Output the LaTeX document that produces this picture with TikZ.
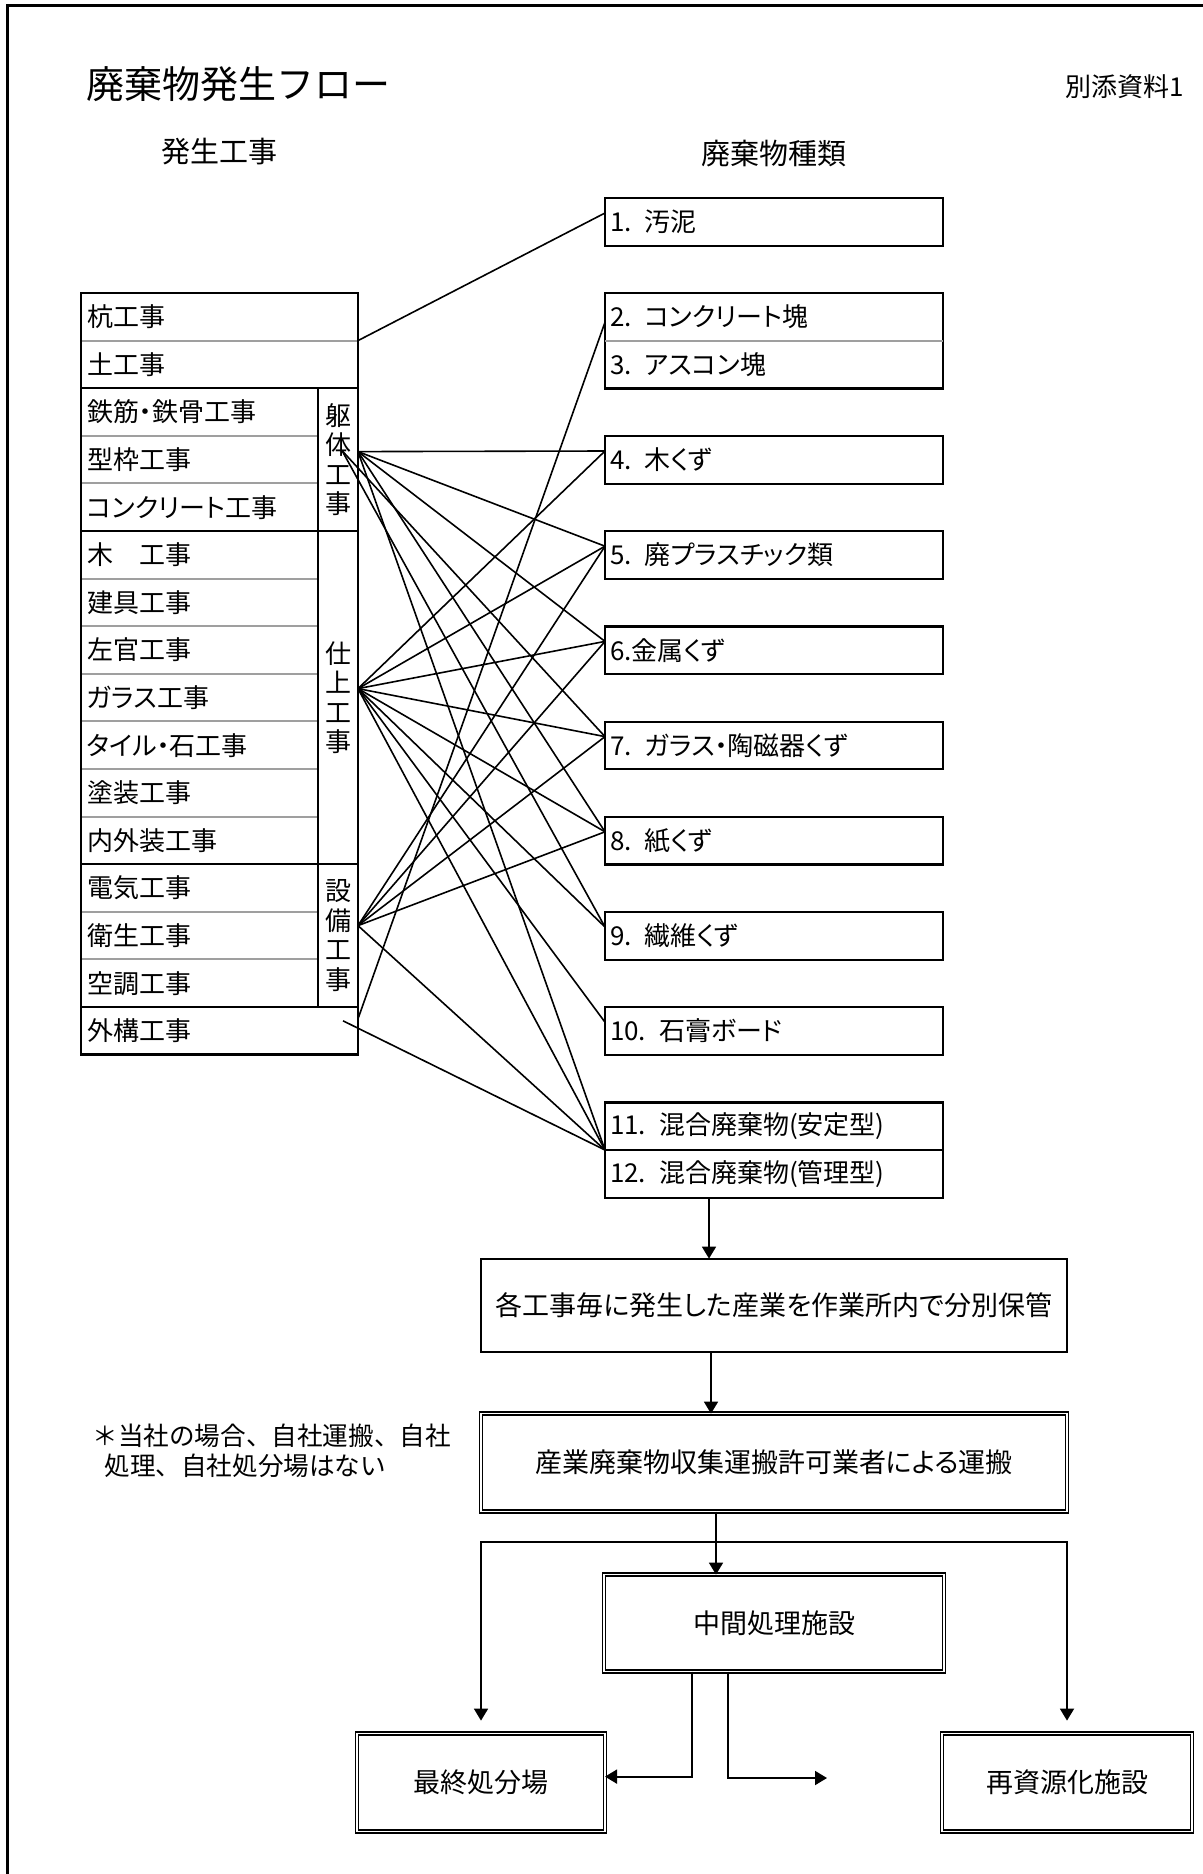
\documentclass[tikz,border=0pt]{standalone}
\usepackage{fontspec}
\setmainfont{Noto Sans CJK JP}[RawFeature=+palt]
\newfontfamily\fullwidth{Noto Sans CJK JP}
\usetikzlibrary{positioning,arrows.meta}

\begin{document}
\begin{tikzpicture}[
        x=0.5pt, y=-0.5pt,
        node distance=23.8pt,
        row/.style={rectangle, draw=gray!75, line width=1pt, outer sep=0pt, inner xsep=3pt, inner ysep=0pt, minimum height=23.8pt, text width=112.5pt, align=left, font=\fontsize{13pt}{15pt}\selectfont},
        wide/.style={text width=132.5pt},
        grp/.style={rectangle, draw, line width=1.2pt, outer sep=0pt, inner sep=0pt, minimum width=20pt, align=center, font=\fontsize{13pt}{14.7pt}\selectfont},
        grpframe/.style={draw, line width=1.2pt},
        waste/.style={rectangle, draw, line width=1.1pt, outer sep=0pt, inner xsep=2.5pt, inner ysep=0pt, minimum height=23.8pt, text width=164pt, align=left, font=\fontsize{13pt}{15pt}\selectfont},
        link/.style={line width=0.8pt},
        flowbox/.style={rectangle, draw, line width=1pt, outer sep=0pt, align=center, font=\fontsize{13.5pt}{15pt}\selectfont},
        dblbox/.style={flowbox, double, double distance=0.7pt, line width=0.85pt},
        arrow/.style={-{Triangle[length=6pt, width=7pt]}, line width=0.9pt}
    ]
        \useasboundingbox (0,0) rectangle (1203,1874);
        \draw[line width=1.5pt] (7,1874) -- (7,5) -- (1203,5);

        \node[anchor=west, inner sep=0pt, font=\fullwidth\fontsize{19pt}{21pt}\selectfont] (title) at (86,84) {廃棄物発生フロー};
        \node[anchor=east, inner sep=0pt, font=\fontsize{13pt}{15pt}\selectfont] (annex) at (1184,87) {別添資料1};
        \node[font=\fontsize{14.5pt}{16pt}\selectfont] (srchead) at (219.5,152) {発生工事};
        \node[font=\fontsize{14.5pt}{16pt}\selectfont] (wastehead) at (774,154) {廃棄物種類};

        \node[row, wide, anchor=north west] (kui) at (81,293) {杭工事};
        \node[row, wide, below=0pt of kui] (tsuchi) {土工事};
        \node[row, below=0pt of tsuchi.south west, anchor=north west] (tekkin) {鉄筋・鉄骨工事};
        \node[row, below=0pt of tekkin] (katawaku) {型枠工事};
        \node[row, below=0pt of katawaku] (concrete) {コンクリート工事};
        \node[row, below=0pt of concrete] (moku) {木　工事};
        \node[row, below=0pt of moku] (tategu) {建具工事};
        \node[row, below=0pt of tategu] (sakan) {左官工事};
        \node[row, below=0pt of sakan] (glass) {ガラス工事};
        \node[row, below=0pt of glass] (tile) {タイル・石工事};
        \node[row, below=0pt of tile] (tosou) {塗装工事};
        \node[row, below=0pt of tosou] (naigai) {内外装工事};
        \node[row, below=0pt of naigai] (denki) {電気工事};
        \node[row, below=0pt of denki] (eisei) {衛生工事};
        \node[row, below=0pt of eisei] (kuchou) {空調工事};
        \node[row, wide, below=0pt of kuchou.south west, anchor=north west] (gaikou) {外構工事};

        \node[grp, minimum height=71.4pt, right=0pt of tekkin.north east, anchor=north west] (kutai) {躯\\体\\工\\事};
        \node[grp, minimum height=166.6pt, right=0pt of moku.north east, anchor=north west] (shiage) {仕\\上\\工\\事};
        \node[grp, minimum height=71.4pt, right=0pt of denki.north east, anchor=north west] (setsubi) {設\\備\\工\\事};

        \draw[grpframe] (kui.north west) rectangle (tsuchi.south east);
        \draw[grpframe] (tekkin.north west) rectangle (kutai.south east);
        \draw[grpframe] (moku.north west) rectangle (shiage.south east);
        \draw[grpframe] (denki.north west) rectangle (setsubi.south east);
        \draw[grpframe] (gaikou.north west) rectangle (gaikou.south east);

        \node[waste, anchor=north west] (sludge) at (605,198) {1. 汚泥};
        \node[waste, below=of sludge] (conc) {2. コンクリート塊};
        \node[waste, below=0pt of conc] (ascon) {3. アスコン塊};
        \node[waste, below=of ascon] (wood) {4. 木くず};
        \node[waste, below=of wood] (plastic) {5. 廃プラスチック類};
        \node[waste, below=of plastic] (metal) {6.金属くず};
        \node[waste, below=of metal] (glassw) {7. ガラス・陶磁器くず};
        \node[waste, below=of glassw] (paper) {8. 紙くず};
        \node[waste, below=of paper] (fiber) {9. 繊維くず};
        \node[waste, below=of fiber] (gypsum) {10. 石膏ボード};
        \node[waste, below=of gypsum] (mixsafe) {11. 混合廃棄物(安定型)};
        \node[waste, below=0pt of mixsafe] (mixctrl) {12. 混合廃棄物(管理型)};
        \draw[gray!75, line width=1.2pt] (conc.south west) -- (conc.south east);

        \coordinate (tsludge) at ([yshift=-7.5pt]sludge.north west);
        \coordinate (tconc) at ([yshift=-14.5pt]conc.north west);
        \coordinate (twood) at ([yshift=-7.5pt]wood.north west);
        \coordinate (tplastic) at ([yshift=-7.5pt]plastic.north west);
        \coordinate (tmetal) at ([yshift=-7.5pt]metal.north west);
        \coordinate (tglassw) at ([yshift=-7.5pt]glassw.north west);
        \coordinate (tpaper) at ([yshift=-7.5pt]paper.north west);
        \coordinate (tfiber) at ([yshift=-7.5pt]fiber.north west);
        \coordinate (tgypsum) at ([yshift=-7.5pt]gypsum.north west);

        \coordinate (kutaip) at ([yshift=4pt]kutai.east);
        \coordinate (kutaiq) at ([xshift=-8pt, yshift=4.5pt]kutai.east);
        \coordinate (shiagep) at ([yshift=4.5pt]shiage.east);
        \coordinate (setsubip) at ([yshift=5pt]setsubi.east);
        \coordinate (gaikoup) at ([yshift=6pt]gaikou.east);
        \coordinate (gaikouq) at ([xshift=-7.5pt, yshift=5pt]gaikou.east);

        \draw[link] (kui.south east) -- (tsludge);
        \draw[link] (gaikoup) -- (tconc);
        \draw[link] (kutaip) -- (twood);
        \draw[link] (kutaip) -- (tplastic);
        \draw[link] (kutaip) -- (tmetal);
        \draw[link] (kutaiq) -- (tglassw);
        \draw[link] (kutaip) -- (tpaper);
        \draw[link] (kutaiq) -- (tfiber);
        \draw[link] (kutaip) -- (mixsafe.south west);
        \draw[link] (shiagep) -- (twood);
        \draw[link] (shiagep) -- (tplastic);
        \draw[link] (shiagep) -- (tmetal);
        \draw[link] (shiagep) -- (tglassw);
        \draw[link] (shiagep) -- (tpaper);
        \draw[link] (shiagep) -- (tfiber);
        \draw[link] (shiagep) -- (tgypsum);
        \draw[link] (shiagep) -- (mixsafe.south west);
        \draw[link] (setsubip) -- (tplastic);
        \draw[link] (setsubip) -- (tmetal);
        \draw[link] (setsubip) -- (tglassw);
        \draw[link] (setsubip) -- (tpaper);
        \draw[link] (setsubip) -- (mixsafe.south west);
        \draw[link] (gaikouq) -- (mixsafe.south west);

        \node[flowbox, minimum width=293pt, minimum height=46.5pt, below=30.5pt of mixctrl] (sorting) {各工事毎に発生した産業を作業所内で分別保管};
        \node[dblbox, minimum width=293pt, minimum height=49pt, below=31pt of sorting] (transport) {産業廃棄物収集運搬許可業者による運搬};
        \node[dblbox, minimum width=170pt, minimum height=48.5pt, below=31.5pt of transport] (midproc) {中間処理施設};
        \node[dblbox, minimum width=124pt, minimum height=49pt, below=111pt of transport.south west] (landfill) {最終処分場};
        \node[dblbox, minimum width=125pt, minimum height=49pt, below=111pt of transport.south east] (recycle) {再資源化施設};
        \coordinate[below=15pt of transport] (split);
        \coordinate (spill) at (827,1778);

        \draw[arrow] ([xshift=-32.5pt]mixctrl.south) -- ([xshift=-32.5pt]sorting.north);
        \draw[arrow] ([xshift=-31.5pt]sorting.south) -- ([xshift=-31.5pt]transport.north);
        \draw[arrow] ([xshift=-29pt]transport.south) -- ([xshift=-29pt]midproc.north);
        \draw[arrow] (split) -| ([yshift=6.5pt]landfill.north);
        \draw[arrow] (split) -| ([yshift=6.5pt]recycle.north);
        \draw[arrow] ([xshift=-41pt]midproc.south) |- ([yshift=3pt]landfill.east);
        \draw[arrow] ([xshift=-23pt]midproc.south) |- (spill);

        \node[anchor=west, align=left, inner sep=0pt, font=\fullwidth\fontsize{12.8pt}{15pt}\selectfont] (note) at (92,1451) {＊当社の場合、自社運搬、自社\\\hspace*{6pt}処理、自社処分場はない};
    \end{tikzpicture}
\end{document}
